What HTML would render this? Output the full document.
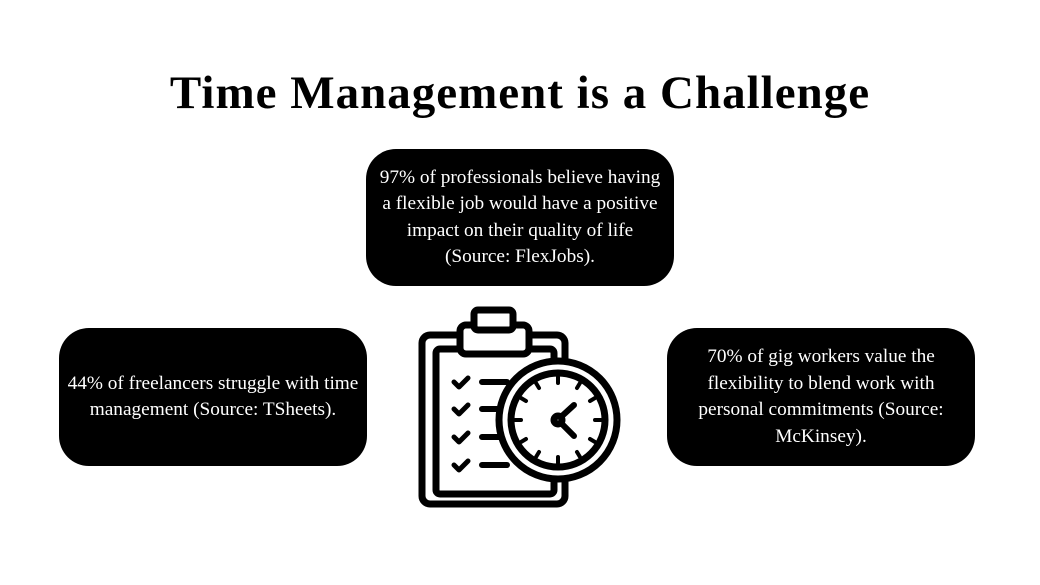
<!DOCTYPE html>
<html><head><meta charset="utf-8"><style>
body{margin:0;background:#fff;width:1040px;height:585px;position:relative;overflow:hidden;font-family:"Liberation Serif",serif}
h1{position:absolute;top:66px;left:0;width:1040px;margin:0;text-align:center;font-size:47px;font-weight:bold;letter-spacing:1px;color:#000}
.box{position:absolute;background:#000;color:#fff;border-radius:30px;display:flex;align-items:center;justify-content:center;text-align:center;font-size:19.3px;line-height:26.5px;white-space:nowrap}
</style></head><body>
<h1>Time Management is a Challenge</h1>
<div class="box" style="left:366px;top:149px;width:308px;height:137px">97% of professionals believe having<br>a flexible job would have a positive<br>impact on their quality of life<br>(Source: FlexJobs).</div>
<div class="box" style="left:59px;top:328px;width:308px;height:138px">44% of freelancers struggle with time<br>management (Source: TSheets).</div>
<div class="box" style="left:667px;top:328px;width:308px;height:138px">70% of gig workers value the<br>flexibility to blend work with<br>personal commitments (Source:<br>McKinsey).</div>
<svg style="position:absolute;left:0;top:0" width="1040" height="585" fill="none" stroke="#000" stroke-width="7" stroke-linecap="round" stroke-linejoin="round">
<rect x="422" y="335" width="143" height="169" rx="8"/>
<rect x="436" y="349" width="118" height="145" rx="4"/>
<rect x="460" y="325" width="69" height="29" rx="6" fill="#fff"/>
<rect x="474" y="310" width="39" height="20" rx="4" fill="#fff"/>
<g stroke-width="5">
<path d="M454 382l5 5 9-9M454 409l5 5 9-9M454 437l5 5 9-9M454 465l5 5 9-9"/>
<path d="M482 382h25M482 409h25M482 437h25M482 465h25" stroke-width="6"/>
</g>
<circle cx="558" cy="420" r="59" fill="#fff"/>
<circle cx="558" cy="420" r="47"/>
<g stroke-width="4">
<path d="M558 377v6M558 457v6M515 420h6M595 420h6M536 383l3 5M580 383l-3 5M536 457l3-5M580 457l-3-5M521 398l5 3M595 398l-5 3M521 442l5-3M595 442l-5-3"/>
</g>
<circle cx="558" cy="420" r="4"/>
<path d="M562 416l12-11M562 424l12 12" stroke-width="6"/>
</svg>
</body></html>
